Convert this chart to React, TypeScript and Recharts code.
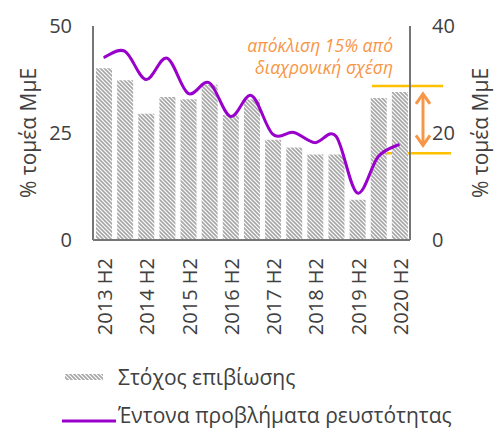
import React from 'react';
import { ComposedChart, Bar, Line, XAxis, YAxis, ReferenceArea, Legend } from 'recharts';

const periods = ['2013 H2', '2014 H1', '2014 H2', '2015 H1', '2015 H2', '2016 H1', '2016 H2', '2017 H1', '2017 H2', '2018 H1', '2018 H2', '2019 H1', '2019 H2', '2020 H1', '2020 H2'];
const survivalTarget = [40.1, 37.3, 29.5, 33.4, 32.9, 36.3, 29.2, 32.8, 23.4, 21.6, 20.0, 20.0, 9.4, 33.2, 34.6];
const liquidityProblems = [34.1, 35.3, 30.0, 34.0, 27.4, 29.4, 23.1, 27.0, 19.8, 20.1, 18.2, 19.4, 8.8, 15.6, 17.9];
const leftTicks = [0, 25, 50];
const rightTicks = [0, 20, 40];
const bandUpper = 28.8;
const bandLower = 16.2;
const seriesNames = ['Στόχος επιβίωσης', 'Έντονα προβλήματα ρευστότητας'];
const annotationLines = ['απόκλιση 15% από', 'διαχρονική σχέση'];
const axisTitle = '% τομέα ΜμΕ';

const data = periods.map((p, i) => ({ period: p, target: survivalTarget[i], liquidity: liquidityProblems[i] }));

const FONT = "'Open Sans', sans-serif";
const TEXT = '#404040';
const AXIS = '#767676';
const PURPLE = '#9900CC';
const GOLD = '#FFC000';
const ORANGE = '#F79646';

const excelSmooth = (context: any) => {
  let pts: number[][] = [];
  return {
    areaStart() {},
    areaEnd() {},
    lineStart() {
      pts = [];
    },
    point(x: number, y: number) {
      pts.push([+x, +y]);
    },
    lineEnd() {
      const n = pts.length;
      if (!n) return;
      context.moveTo(pts[0][0], pts[0][1]);
      const k = 1 / 6;
      for (let i = 0; i < n - 1; i++) {
        const p0 = pts[Math.max(i - 1, 0)];
        const p1 = pts[i];
        const p2 = pts[i + 1];
        const p3 = pts[Math.min(i + 2, n - 1)];
        context.bezierCurveTo(
          p1[0] + (p2[0] - p0[0]) * k,
          p1[1] + (p2[1] - p0[1]) * k,
          p2[0] - (p3[0] - p1[0]) * k,
          p2[1] - (p3[1] - p1[1]) * k,
          p2[0],
          p2[1]
        );
      }
    },
  };
};

const XTick = (props: any) => {
  const { x, y, payload } = props;
  const cx = x + 1;
  return (
    <text
      x={cx}
      y={y}
      transform={`rotate(-90 ${cx} ${y})`}
      textAnchor="end"
      dominantBaseline="central"
      fontSize={20}
      fill={TEXT}
      fontFamily={FONT}
    >
      {payload.value}
    </text>
  );
};

const axisLabel = (dx: number) => (p: any) => {
  const vb = p.viewBox;
  const cx = vb.x + dx;
  const cy = vb.y + vb.height / 2;
  return (
    <text
      x={cx}
      y={cy}
      transform={`rotate(-90 ${cx} ${cy})`}
      textAnchor="middle"
      dominantBaseline="central"
      fontSize={21}
      fill={TEXT}
      fontFamily={FONT}
    >
      {axisTitle}
    </text>
  );
};

const BandShape = (props: any) => {
  const { x, y, width, height } = props;
  const R = x + width;
  const top = y;
  const bot = y + height;
  const ax = R + 13;
  const a1 = top + 8;
  const a2 = bot - 8;
  return (
    <g>
      <text
        x={R - 17}
        y={top - 41}
        textAnchor="end"
        dominantBaseline="central"
        fontSize={17.5}
        fontStyle="italic"
        fill={ORANGE}
        fontFamily={FONT}
      >
        {annotationLines[0]}
      </text>
      <text
        x={R - 17}
        y={top - 19}
        textAnchor="end"
        dominantBaseline="central"
        fontSize={17.5}
        fontStyle="italic"
        fill={ORANGE}
        fontFamily={FONT}
      >
        {annotationLines[1]}
      </text>
      <line x1={R - 38} x2={R + 33} y1={top} y2={top} stroke={GOLD} strokeWidth={2.5} />
      <line x1={R - 31} x2={R + 41} y1={bot} y2={bot} stroke={GOLD} strokeWidth={2.5} />
      <line x1={ax} x2={ax} y1={a1 + 2} y2={a2 - 2} stroke={ORANGE} strokeWidth={3} />
      <path d={`M${ax - 7},${a1 + 10} L${ax},${a1} L${ax + 7},${a1 + 10}`} fill="none" stroke={ORANGE} strokeWidth={3} strokeLinejoin="miter" />
      <path d={`M${ax - 7},${a2 - 10} L${ax},${a2} L${ax + 7},${a2 - 10}`} fill="none" stroke={ORANGE} strokeWidth={3} strokeLinejoin="miter" />
    </g>
  );
};

const rowStyle: React.CSSProperties = {
  position: 'absolute',
  left: 0,
  height: 22,
  lineHeight: '22px',
  display: 'flex',
  alignItems: 'center',
  whiteSpace: 'nowrap',
};

const LegendContent = () => (
  <div style={{ fontFamily: FONT, color: TEXT, fontSize: 21, position: 'relative', height: 62, width: 432 }}>
    <div style={{ ...rowStyle, top: 0 }}>
      <svg width={56} height={22} style={{ display: 'block', flex: 'none' }}>
        <defs>
          <pattern id="hatchLegend" width={4} height={4} patternUnits="userSpaceOnUse">
            <rect width={4} height={4} fill="#fff" />
            <path d="M-1,-1 L5,5 M3,-1 L5,1 M-1,3 L1,5" stroke="#a6a6a6" strokeWidth={1.6} />
          </pattern>
        </defs>
        <rect x={3} y={8} width={38} height={6} fill="url(#hatchLegend)" />
      </svg>
      <span>{seriesNames[0]}</span>
    </div>
    <div style={{ ...rowStyle, top: 38 }}>
      <svg width={56} height={22} style={{ display: 'block', flex: 'none' }}>
        <line x1={0} x2={54} y1={17} y2={17} stroke={PURPLE} strokeWidth={3} />
      </svg>
      <span>{seriesNames[1]}</span>
    </div>
  </div>
);

export default function App() {
  return (
    <div style={{ position: 'absolute', left: 0, top: 0, width: 494, height: 430, fontFamily: FONT, background: '#fff' }}>
      <ComposedChart
        width={494}
        height={430}
        data={data}
        margin={{ top: 26, right: 0, bottom: 0, left: 0 }}
      >
        <defs>
          <pattern id="hatch" width={4} height={4} patternUnits="userSpaceOnUse">
            <rect width={4} height={4} fill="#fff" />
            <path d="M-1,-1 L5,5 M3,-1 L5,1 M-1,3 L1,5" stroke="#a6a6a6" strokeWidth={1.6} />
          </pattern>
        </defs>
        <XAxis
          dataKey="period"
          height={190}
          interval={1}
          tick={<XTick />}
          tickLine={false}
          tickSize={0}
          tickMargin={18}
          axisLine={{ stroke: AXIS, strokeWidth: 2 }}
        />
        <YAxis
          yAxisId="left"
          orientation="left"
          width={93}
          domain={[0, 50]}
          ticks={leftTicks}
          tickLine={false}
          tickSize={0}
          tickMargin={21}
          tick={{ fontSize: 20, fill: TEXT, fontFamily: FONT }}
          axisLine={{ stroke: AXIS, strokeWidth: 2 }}
          label={{ content: axisLabel(28) }}
        />
        <YAxis
          yAxisId="right"
          orientation="right"
          width={84}
          domain={[0, 40]}
          ticks={rightTicks}
          tickLine={false}
          tickSize={0}
          tickMargin={22}
          tick={{ fontSize: 20, fill: TEXT, fontFamily: FONT }}
          axisLine={{ stroke: AXIS, strokeWidth: 2 }}
          label={{ content: axisLabel(70) }}
        />
        <Bar
          yAxisId="left"
          dataKey="target"
          name={seriesNames[0]}
          fill="url(#hatch)"
          barSize={16}
          isAnimationActive={false}
        />
        <Line
          yAxisId="right"
          dataKey="liquidity"
          name={seriesNames[1]}
          type={excelSmooth as any}
          stroke={PURPLE}
          strokeWidth={3}
          dot={false}
          activeDot={false}
          isAnimationActive={false}
        />
        <ReferenceArea
          yAxisId="right"
          y1={bandLower}
          y2={bandUpper}
          shape={(p: any) => <BandShape {...p} />}
        />
        <Legend
          layout="horizontal"
          verticalAlign="middle"
          align="center"
          wrapperStyle={{ top: 366, left: 62, width: 432, height: 62 }}
          content={<LegendContent />}
        />
      </ComposedChart>
    </div>
  );
}
